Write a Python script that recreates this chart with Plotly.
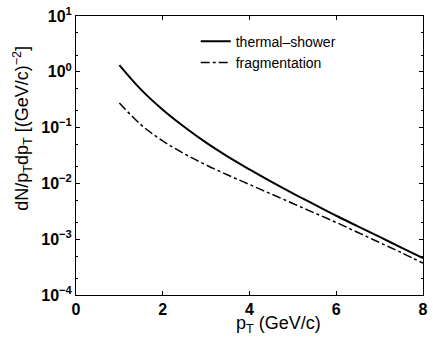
import plotly.graph_objects as go

pt = [1, 1.5, 2, 2.5, 3, 3.5, 4, 4.5, 5, 5.5, 6, 6.5, 7, 7.5, 8]
log_thermal_shower = [0.12, -0.32, -0.68, -0.99, -1.27, -1.52, -1.75, -1.97, -2.18,
                      -2.38, -2.58, -2.77, -2.96, -3.15, -3.34]
log_fragmentation = [-0.56, -0.95, -1.24, -1.47, -1.67, -1.85, -2.02, -2.19, -2.36,
                     -2.53, -2.70, -2.88, -3.06, -3.24, -3.43]
thermal_shower = [10 ** v for v in log_thermal_shower]
fragmentation = [10 ** v for v in log_fragmentation]

x_ticks = [0, 2, 4, 6, 8]
y_exps = [-4, -3, -2, -1, 0, 1]

FONT = "Liberation Sans, Arial, Helvetica, sans-serif"

fig = go.Figure()
fig.add_trace(go.Scatter(x=pt, y=thermal_shower, mode="lines", name="thermal\u2013shower",
                         line=dict(color="black", width=2, dash="solid", shape="spline")))
fig.add_trace(go.Scatter(x=pt, y=fragmentation, mode="lines", name="fragmentation",
                         line=dict(color="black", width=1.5, dash="dashdot", shape="spline")))

fig.update_layout(
    width=433, height=337,
    margin=dict(l=76, r=5, t=16, b=42),
    paper_bgcolor="white", plot_bgcolor="white",
    font=dict(family=FONT, color="black"),
    showlegend=True,
    legend=dict(x=0.345, y=0.965, xanchor="left", yanchor="top",
                bgcolor="rgba(0,0,0,0)", borderwidth=0,
                font=dict(size=14, family=FONT), itemwidth=30, tracegroupgap=0),
    xaxis=dict(range=[0, 8], tickvals=x_ticks,
               ticktext=[f"<b>{v}</b>" for v in x_ticks],
               ticks="inside", ticklen=4, tickcolor="black",
               showline=True, linecolor="black", linewidth=1, mirror="ticks",
               showgrid=False, zeroline=False,
               tickfont=dict(size=16, family=FONT)),
    yaxis=dict(type="log", range=[-4, 1],
               tickvals=[10 ** e for e in y_exps],
               ticktext=[f"<b>10<sup>{str(e).replace('-', '\u2212')}</sup></b>" for e in y_exps],
               ticks="inside", ticklen=4, tickcolor="black",
               minor=dict(ticks="inside", ticklen=2, tickcolor="black", showgrid=False),
               showline=True, linecolor="black", linewidth=1, mirror="ticks",
               showgrid=False, zeroline=False,
               tickfont=dict(size=16, family=FONT)),
)

fig.add_annotation(xref="paper", yref="paper", x=(281 - 76) / 352, y=(295 - 324) / 279,
                   text="p<sub>T</sub> (GeV/c)", showarrow=False,
                   xanchor="center", yanchor="middle",
                   font=dict(size=18, family=FONT))
fig.add_annotation(xref="paper", yref="paper", x=(21 - 76) / 352, y=(295 - 128) / 279,
                   text="dN/p<sub>T</sub>dp<sub>T</sub> [(GeV/c)<sup>\u22122</sup>]",
                   showarrow=False, textangle=-90,
                   xanchor="center", yanchor="middle",
                   font=dict(size=18, family=FONT))

fig.write_html("out.html")
